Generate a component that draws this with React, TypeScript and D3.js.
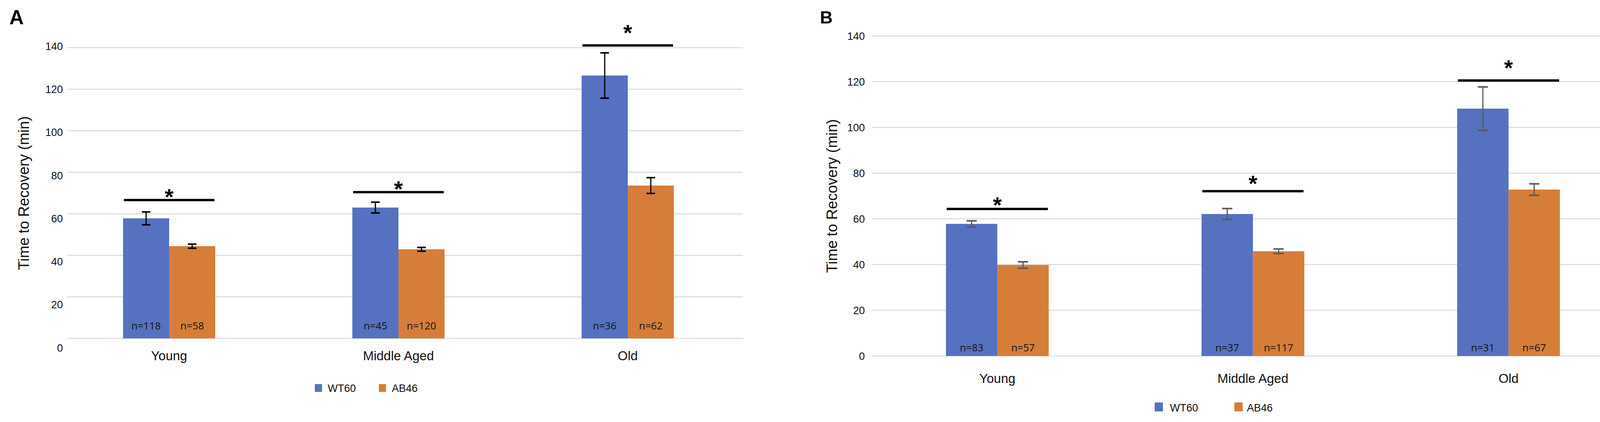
import * as d3 from "d3";

const categories = ["Young", "Middle Aged", "Old"];
const series = ["WT60", "AB46"];
const yTicks = [0, 20, 40, 60, 80, 100, 120, 140];

// Panel A
const aWT60 = [57.8, 63.0, 126.6];
const aWT60Err = [3.1, 2.6, 10.9];
const aAB46 = [44.4, 42.9, 73.6];
const aAB46Err = [1.0, 0.9, 3.8];
const aN_WT60 = [118, 45, 36];
const aN_AB46 = [58, 120, 62];
const aSigLine = [66.6, 70.4, 141.1];
const aSigStar = [70.7, 74.5, 149.8];

// Panel B
const bWT60 = [57.8, 62.1, 108.2];
const bWT60Err = [1.3, 2.4, 9.5];
const bAB46 = [39.8, 45.8, 72.8];
const bAB46Err = [1.4, 1.0, 2.5];
const bN_WT60 = [83, 37, 31];
const bN_AB46 = [57, 117, 67];
const bSigLine = [64.3, 72.1, 120.5];
const bSigStar = [68.4, 77.8, 128.4];

const COLORS: Record<string, string> = { WT60: "#5571C0", AB46: "#D67D3A" };
const FONT = "'Liberation Sans', Arial, sans-serif";
const NFONT = "'Liberation Sans Narrow', 'Open Sans', sans-serif";

type PanelProps = {
  letter: string;
  letterX: number;
  letterY: number;
  letterSize: number;
  wt: number[];
  wtErr: number[];
  ab: number[];
  abErr: number[];
  nWt: number[];
  nAb: number[];
  sigLine: number[];
  sigStar: number[];
  bandRange: [number, number];
  gridX: [number, number];
  yRange: [number, number];
  labelRange: [number, number];
  tickRight: number;
  titleX: number;
  catBaseline: number;
  nBaseline: number;
  errColor: string;
  capW: number;
  legend: { sq: number; text: number }[];
  legendY: number;
  legendSq: number;
};

function Panel(p: PanelProps) {
  const x0 = d3.scaleBand<string>().domain(categories).range(p.bandRange);
  const groupW = x0.bandwidth() * 0.402;
  const x1 = d3.scaleBand<string>().domain(series).range([0, groupW]);
  const y = d3.scaleLinear().domain([0, 140]).range(p.yRange);
  const yLab = d3.scaleLinear().domain([0, 140]).range(p.labelRange);
  const groupLeft = (c: string) => x0(c)! + (x0.bandwidth() - groupW) / 2;

  const values: Record<string, number[]> = { WT60: p.wt, AB46: p.ab };
  const errs: Record<string, number[]> = { WT60: p.wtErr, AB46: p.abErr };
  const ns: Record<string, number[]> = { WT60: p.nWt, AB46: p.nAb };
  const titleY = (p.yRange[0] + p.yRange[1]) / 2;

  return (
    <g>
      <text x={p.letterX} y={p.letterY} fontFamily={FONT} fontWeight="bold" fontSize={p.letterSize} fill="#000">
        {p.letter}
      </text>

      {/* gridlines */}
      {yTicks.map((t) => (
        <line key={t} x1={p.gridX[0]} x2={p.gridX[1]} y1={y(t)} y2={y(t)} stroke="#D9D9D9" strokeWidth={2.5} />
      ))}
      {yTicks.map((t) => (
        <text key={"l" + t} x={p.tickRight} y={yLab(t)} dy="0.36em" textAnchor="end" fontFamily={FONT} fontSize={27} fill="#111">
          {t}
        </text>
      ))}

      <text
        transform={`translate(${p.titleX},${titleY}) rotate(-90)`}
        textAnchor="middle"
        fontFamily={FONT}
        fontSize={38}
        fill="#111"
      >
        Time to Recovery (min)
      </text>

      {/* bars */}
      {categories.map((c, i) => (
        <g key={c}>
          {series.map((s) => {
            const bx = groupLeft(c) + x1(s)!;
            const v = values[s][i];
            return (
              <rect key={s} x={bx} y={y(v)} width={x1.bandwidth()} height={y(0) - y(v)} fill={COLORS[s]} />
            );
          })}
        </g>
      ))}

      {/* error bars */}
      {categories.map((c, i) =>
        series.map((s) => {
          const cx = groupLeft(c) + x1(s)! + x1.bandwidth() / 2;
          const v = values[s][i];
          const e = errs[s][i];
          return (
            <g key={c + s} stroke={p.errColor} strokeWidth={3}>
              <line x1={cx} x2={cx} y1={y(v + e)} y2={y(v - e)} />
              <line x1={cx - p.capW / 2} x2={cx + p.capW / 2} y1={y(v + e)} y2={y(v + e)} strokeWidth={4} />
              <line x1={cx - p.capW / 2} x2={cx + p.capW / 2} y1={y(v - e)} y2={y(v - e)} strokeWidth={4} />
            </g>
          );
        })
      )}

      {/* n labels */}
      {categories.map((c, i) =>
        series.map((s) => {
          const cx = groupLeft(c) + x1(s)! + x1.bandwidth() / 2;
          return (
            <text key={"n" + c + s} x={cx} y={p.nBaseline} textAnchor="middle" fontFamily={NFONT} fontSize={26} fill="#141414">
              n={ns[s][i]}
            </text>
          );
        })
      )}

      {/* significance */}
      {categories.map((c, i) => (
        <g key={"sig" + c}>
          <line x1={groupLeft(c) + 2} x2={groupLeft(c) + groupW - 2} y1={y(p.sigLine[i])} y2={y(p.sigLine[i])} stroke="#000" strokeWidth={6} />
          <text
            x={groupLeft(c) + groupW / 2}
            y={y(p.sigStar[i]) + 34}
            textAnchor="middle"
            fontFamily={FONT}
            fontWeight="bold"
            fontSize={58}
            fill="#000"
          >
            *
          </text>
        </g>
      ))}

      {/* category labels */}
      {categories.map((c) => (
        <text key={"c" + c} x={x0(c)! + x0.bandwidth() / 2} y={p.catBaseline} textAnchor="middle" fontFamily={FONT} fontSize={33} fill="#111">
          {c}
        </text>
      ))}

      {/* legend */}
      {series.map((s, i) => (
        <g key={"lg" + s}>
          <rect x={p.legend[i].sq} y={p.legendY - p.legendSq} width={p.legendSq * 0.92} height={p.legendSq} fill={COLORS[s]} />
          <text x={p.legend[i].text} y={p.legendY} fontFamily={FONT} fontSize={27} fill="#111">
            {s}
          </text>
        </g>
      ))}
    </g>
  );
}

export default function App() {
  return (
    <div style={{ position: "absolute", left: 0, top: 0 }}>
      <svg width={4173} height={1080} viewBox="0 0 4173 1080" style={{ display: "block", background: "#fff" }}>
        <rect width={4173} height={1080} fill="#fff" />
        <Panel
          letter="A"
          letterX={24}
          letterY={62}
          letterSize={51}
          wt={aWT60}
          wtErr={aWT60Err}
          ab={aAB46}
          abErr={aAB46Err}
          nWt={aN_WT60}
          nAb={aN_AB46}
          sigLine={aSigLine}
          sigStar={aSigStar}
          bandRange={[139.5, 1900.5]}
          gridX={[172, 1902]}
          yRange={[866, 122]}
          labelRange={[890, 118]}
          tickRight={161}
          titleX={74}
          catBaseline={922}
          nBaseline={843}
          errColor="#000"
          capW={22}
          legend={[
            { sq: 806, text: 839 },
            { sq: 970, text: 1003 },
          ]}
          legendY={1003}
          legendSq={20}
        />
        <Panel
          letter="B"
          letterX={2099}
          letterY={60}
          letterSize={45}
          wt={bWT60}
          wtErr={bWT60Err}
          ab={bAB46}
          abErr={bAB46Err}
          nWt={bN_WT60}
          nAb={bN_AB46}
          sigLine={bSigLine}
          sigStar={bSigStar}
          bandRange={[2226, 4189]}
          gridX={[2232, 4141]}
          yRange={[911, 92]}
          labelRange={[911, 92]}
          tickRight={2214}
          titleX={2143}
          catBaseline={980}
          nBaseline={899}
          errColor="#595959"
          capW={26}
          legend={[
            { sq: 2956, text: 2995 },
            { sq: 3160, text: 3192 },
          ]}
          legendY={1053}
          legendSq={23}
        />
      </svg>
    </div>
  );
}
